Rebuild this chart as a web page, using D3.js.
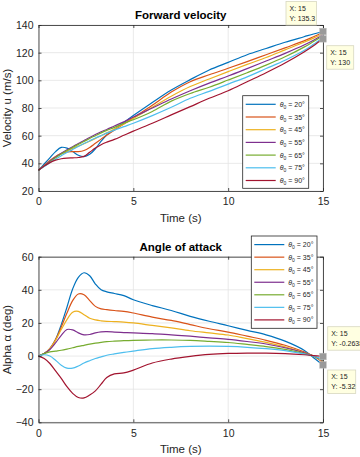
<!DOCTYPE html>
<html>
<head>
<meta charset="utf-8">
<script src="https://cdn.jsdelivr.net/npm/d3@7"></script>
<style>
body { margin: 0; background: #fff; }
svg { display: block; font-family: "Liberation Sans", Arial, sans-serif; }
</style>
</head>
<body>
<div id="chart"></div>
<script>
// time grid shared by both panels (s)
var time = [0,0.3,0.6,0.9,1.2,1.5,1.8,2.1,2.4,2.7,3,3.3,3.6,4,4.5,5,6,7,8,9,10,11,12,13,14,14.5,15];
var thetaLabels = ["20", "35", "45", "55", "65", "75", "90"];
var colors = ["#0072BD","#D95319","#EDB120","#7E2F8E","#77AC30","#4DBEEE","#A2142F"];

// forward velocity u (m/s)
var u20 = [35,39.5,44,48.5,51.5,51,48.5,45.8,44.8,46.5,50.5,56,60.5,64.5,69.5,74.5,84,93,100.5,107.5,113,118.5,123,127.5,131.5,133.5,135.3];
var u35 = [35,38.5,42,45,47,48.3,48.5,48.5,49.3,51.5,54.5,57.5,60.5,64,68.5,73,82,91.5,99,104,108.7,113.5,118.5,123.5,128.5,131.5,134.5];
var u45 = [35,38.3,41.5,44.5,47,49,50.8,52.5,54.2,56,58,60,62,64.8,68.5,72.5,80.5,88.5,95.5,101,106.3,111.5,116.5,122,127.5,130.5,133.7];
var u55 = [35,38.3,41.5,44.5,47.3,49.8,52,54.3,56.5,58.7,60.8,62.8,64.5,67,70,73.5,80,86.5,92.5,98,103.1,108.5,114,119.5,125.5,129,133];
var u65 = [35,38,41,44,46.8,49.3,51.5,53.7,55.8,58,60,62,63.8,66,69,71.5,77.5,85,90.5,95,100.2,105.5,111,117,124,128,132];
var u75 = [35,37.7,40.5,43,45.5,47.8,50,52.2,54.3,56.3,58.3,60,61.8,64,66.5,69,74.5,80.5,87,92,97.3,102.5,108.5,114.5,121.5,126,131];
var u90 = [35,38,40.5,42.3,43.3,43.8,44,44.2,45,48,51,53.5,55.3,57.3,60.3,63.3,69,75,81,87,92.5,99,105.5,112.5,120.5,125,130];

// angle of attack alpha (deg)
var a20 = [0,1.5,4.5,10,19,29.5,40.5,47.5,50.3,48.5,43.5,40,38.8,37.8,36.5,34,30.5,27.5,24,21,18.3,15.5,12.8,9,3.5,-1,-5.32];
var a35 = [0,1.5,4.5,10,17.5,26,33.5,37.5,37,33.5,30,28.5,28,27.5,27,26,23.5,21.5,19,16.5,14.5,12,9.5,6.5,2.5,0,-4];
var a45 = [0,1.5,4.5,9.5,16,22,26.5,27,25,22.8,21.8,21.3,21,20.8,20.5,20,18.5,17,15.3,14,12.7,10.5,8.3,5.5,2,0,-3.5];
var a55 = [0,1.5,4,8,12.5,16,15.8,14,12.8,13,14,14.6,14.7,14.5,14.2,14,13.6,12.8,12,11,10.1,8.8,7.3,5,2,0,-3];
var a65 = [0,1.5,2.5,3,3.5,4.2,5,5.8,6.5,7.2,7.8,8.3,8.7,9,9.3,9.5,9.7,9.7,9.5,8.9,8.2,7,5.7,4,1.5,0,-2.5];
var a75 = [0,0.8,0,-2.5,-5.5,-7.3,-7.3,-6,-4.2,-2.8,-1.5,-0.5,0.5,1.3,2.2,3,4.5,5.3,5.8,6,5.8,5.3,4.5,3.3,1.3,0,-2];
var a90 = [0,-1.5,-4.5,-9,-13.5,-18.5,-22.5,-25,-25.3,-23.5,-21,-17,-13,-10.8,-10.2,-8.5,-4.2,-1.8,-0.2,1,1.6,1.8,1.8,1.5,0.8,0.3,-0.26];

var xTicks = [0, 5, 10, 15];
var uTicks = [20, 40, 60, 80, 100, 120, 140];
var aTicks = [-40, -20, 0, 20, 40, 60];

// data tips: [x, y, label-y]
var uTips = [[15, 135.3], [15, 130]];
var aTips = [[15, -0.2638], [15, -5.32]];

var W = 360, H = 457;
var svg = d3.select("#chart").append("svg").attr("width", W).attr("height", H);
var axCol = "#262626";

function panel(cfg) {
	var x = d3.scaleLinear().domain([0, 15]).range([cfg.left, cfg.right]);
	var y = d3.scaleLinear().domain(cfg.ydom).range([cfg.bottom, cfg.top]);
	var g = svg.append("g");

	// grid
	g.selectAll(".gx").data(xTicks).enter().append("line")
		.attr("x1", d => x(d)).attr("x2", d => x(d))
		.attr("y1", cfg.top).attr("y2", cfg.bottom)
		.attr("stroke", "#e3e3e3").attr("stroke-width", 0.8);
	g.selectAll(".gy").data(cfg.yticks).enter().append("line")
		.attr("x1", cfg.left).attr("x2", cfg.right)
		.attr("y1", d => y(d)).attr("y2", d => y(d))
		.attr("stroke", "#e3e3e3").attr("stroke-width", 0.8);

	// lines
	var line = d3.line()
		.x((d, i) => x(time[i]))
		.y(d => y(d))
		.curve(d3.curveCatmullRom.alpha(0.5));
	cfg.series.forEach(function(s, k) {
		g.append("path").datum(s)
			.attr("d", line)
			.attr("fill", "none")
			.attr("stroke", colors[k])
			.attr("stroke-width", 1.2);
	});

	// axes, ticks pointing inward
	var mk = function(a, tr) {
		var ax = g.append("g").attr("transform", tr).call(a);
		ax.selectAll("path").attr("stroke", axCol).attr("stroke-width", 0.8);
		ax.selectAll("line").attr("stroke", axCol).attr("stroke-width", 0.8);
		ax.selectAll("text").attr("fill", axCol).attr("font-size", 10.5);
		return ax;
	};
	mk(d3.axisBottom(x).tickValues(xTicks).tickSize(-3).tickSizeOuter(0).tickPadding(7),
		"translate(0," + cfg.bottom + ")");
	mk(d3.axisTop(x).tickValues(xTicks).tickSize(-3).tickSizeOuter(0).tickFormat(""),
		"translate(0," + cfg.top + ")");
	mk(d3.axisLeft(y).tickValues(cfg.yticks).tickSize(-3).tickSizeOuter(0).tickPadding(5),
		"translate(" + cfg.left + ",0)");
	mk(d3.axisRight(y).tickValues(cfg.yticks).tickSize(-3).tickSizeOuter(0).tickFormat(""),
		"translate(" + cfg.right + ",0)");

	// title and labels
	g.append("text").attr("x", (cfg.left + cfg.right) / 2).attr("y", cfg.top - 6)
		.attr("text-anchor", "middle").attr("font-weight", "bold").attr("font-size", 11.5)
		.attr("fill", "#000").text(cfg.title);
	g.append("text").attr("x", (cfg.left + cfg.right) / 2).attr("y", cfg.bottom + 31)
		.attr("text-anchor", "middle").attr("font-size", 11.5).attr("fill", axCol)
		.text("Time (s)");
	g.append("text")
		.attr("transform", "translate(11," + ((cfg.top + cfg.bottom) / 2) + ") rotate(-90)")
		.attr("text-anchor", "middle").attr("font-size", 11.5).attr("fill", axCol)
		.text(cfg.ylabel);

	// legend
	var lg = cfg.legend;
	var leg = g.append("g");
	leg.append("rect").attr("x", lg.x).attr("y", lg.y).attr("width", lg.w).attr("height", lg.h)
		.attr("fill", "#fff").attr("stroke", axCol).attr("stroke-width", 0.8);
	thetaLabels.forEach(function(t, k) {
		var yy = lg.y + 8.6 + k * lg.dy;
		leg.append("line").attr("x1", lg.x + 3).attr("x2", lg.x + 33)
			.attr("y1", yy).attr("y2", yy)
			.attr("stroke", colors[k]).attr("stroke-width", 1.2);
		var tx = leg.append("text").attr("x", lg.x + 37).attr("y", yy + 2.5)
			.attr("font-size", 7).attr("fill", axCol);
		tx.append("tspan").attr("font-style", "italic").text("\u03B8");
		tx.append("tspan").attr("font-size", 5).attr("dy", 2).text("0");
		tx.append("tspan").attr("dy", -2).text(" = " + t + "\u00B0");
	});

	// data tips
	cfg.tips.forEach(function(p, k) {
		var px = x(p[0]), py = y(p[1]);
		g.append("rect").attr("x", px - 3.3).attr("y", py - 3.3).attr("width", 6.6).attr("height", 6.6)
			.attr("fill", "#9a9a9a").attr("stroke", "#bdbdbd").attr("stroke-width", 0.5);
		var b = cfg.boxes[k];
		g.append("rect").attr("x", b[0]).attr("y", b[1]).attr("width", b[2]).attr("height", 23.5)
			.attr("fill", "#ffffe1").attr("stroke", "#d8d8c0").attr("stroke-width", 0.8);
		g.append("text").attr("x", b[0] + 3.5).attr("y", b[1] + 9).attr("font-size", 7)
			.attr("fill", "#222").text("X: " + p[0]);
		g.append("text").attr("x", b[0] + 3.5).attr("y", b[1] + 19).attr("font-size", 7)
			.attr("fill", "#222").text("Y: " + p[1]);
	});
}

panel({
	left: 38.5, right: 323, top: 25, bottom: 191,
	ydom: [20, 140], yticks: uTicks,
	series: [u20, u35, u45, u55, u65, u75, u90],
	title: "Forward velocity", ylabel: "Velocity u (m/s)",
	legend: {x: 242.7, y: 95.7, w: 66, h: 92.6, dy: 12.7},
	tips: uTips,
	boxes: [[286, 1.5, 30.5], [326.7, 45.7, 27]]
});

panel({
	left: 38.5, right: 323, top: 256.7, bottom: 422.3,
	ydom: [-40, 60], yticks: aTicks,
	series: [a20, a35, a45, a55, a65, a75, a90],
	title: "Angle of attack", ylabel: "Alpha \u03B1 (deg)",
	legend: {x: 251.3, y: 236, w: 65.7, h: 92.3, dy: 12.55},
	tips: aTips,
	boxes: [[327.7, 326.7, 40], [327.7, 370, 28]]
});
</script>
</body>
</html>
